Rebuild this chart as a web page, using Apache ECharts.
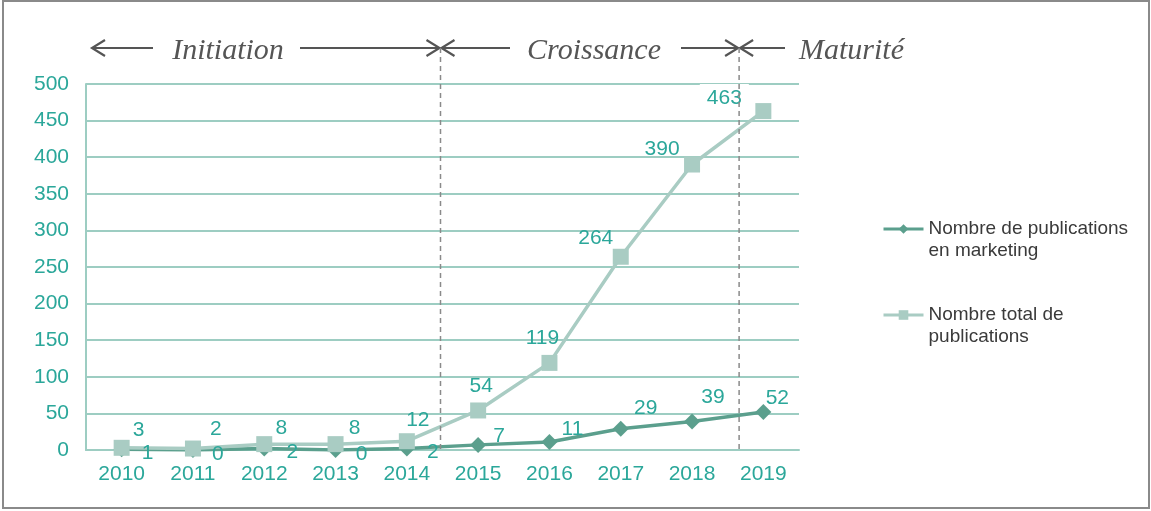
<!DOCTYPE html>
<html>
<head>
<meta charset="utf-8">
<script src="https://cdn.jsdelivr.net/npm/echarts@6/dist/echarts.min.js"></script>
<style>
  html, body { margin: 0; padding: 0; background: #fff; }
  #chart { position: absolute; left: 0; top: 0; width: 1151px; height: 511px; }
  #frame { position: absolute; left: 2px; top: 0; width: 1148px; height: 509px;
           box-sizing: border-box; border: 2px solid #8a8a8a; pointer-events: none; }
</style>
</head>
<body>
<div id="chart"></div>
<div id="frame"></div>
<script>
// data
const years = ['2010', '2011', '2012', '2013', '2014', '2015', '2016', '2017', '2018', '2019'];
const marketing = [1, 0, 2, 0, 2, 7, 11, 29, 39, 52];
const total = [3, 2, 8, 8, 12, 54, 119, 264, 390, 463];
const seriesNames = ['Nombre de publications\nen marketing', 'Nombre total de\npublications'];
const phases = ['Initiation', 'Croissance', 'Maturité'];

// label placement (style only, px from the marker centre)
const mkOffsets = [[26, 4], [25, 4], [28, 4], [26, 4], [26, 4], [21, -9], [23, -13], [25, -21], [21, -24], [14, -14]];
const totOffsets = [[17, -18], [23, -19], [17, -16], [19, -16], [11, -21], [3, -24], [-7, -25], [-25, -19], [-30, -15], [-39, -13]];

const teal = '#2ba79a';
const gridColor = '#9dcdc2';
const darkLine = '#5b9f8d';
const lightLine = '#a9ccc3';
const sans = 'Liberation Sans, Arial, sans-serif';

const chart = echarts.init(document.getElementById('chart'));

const option = {
  animation: false,
  grid: { left: 86, right: 352, top: 84, bottom: 61 },
  legend: {
    orient: 'vertical',
    left: 882,
    top: 196,
    padding: 0,
    itemGap: 20,
    itemWidth: 40,
    itemHeight: 12,
    data: seriesNames,
    formatter: (name) => ' \n' + name,
    lineStyle: { width: 3 },
    textStyle: {
      fontFamily: sans,
      fontSize: 19,
      color: '#3a3a3a',
      lineHeight: 22
    }
  },
  xAxis: {
    type: 'category',
    data: years,
    axisTick: { show: false },
    axisLine: { lineStyle: { color: gridColor, width: 2 } },
    axisLabel: { color: teal, fontSize: 21, margin: 14, fontFamily: sans }
  },
  yAxis: {
    type: 'value',
    min: 0,
    max: 500,
    interval: 50,
    axisLine: { show: true, lineStyle: { color: gridColor, width: 2 } },
    axisTick: { show: false },
    splitLine: { lineStyle: { color: gridColor, width: 2 } },
    axisLabel: { color: teal, fontSize: 21, margin: 17, fontFamily: sans }
  },
  series: [
    {
      name: seriesNames[0],
      type: 'line',
      symbol: 'diamond',
      symbolSize: 16,
      lineStyle: { color: darkLine, width: 3.5 },
      itemStyle: { color: darkLine },
      label: { show: true, position: 'inside', color: teal, fontSize: 21, fontFamily: sans },
      data: marketing.map((v, i) => ({ value: v, label: { offset: mkOffsets[i] } }))
    },
    {
      name: seriesNames[1],
      type: 'line',
      symbol: 'rect',
      symbolSize: 16,
      lineStyle: { color: lightLine, width: 3.5 },
      itemStyle: { color: lightLine },
      label: { show: true, position: 'inside', color: teal, fontSize: 21, fontFamily: sans },
      data: total.map((v, i) => ({
        value: v,
        label: i === total.length - 1
          ? { offset: totOffsets[i], backgroundColor: '#fff', padding: [5, 7, 2, 7] }
          : { offset: totOffsets[i] }
      }))
    }
  ]
};

chart.setOption(option);

// phase annotations: dashed boundaries + arrows
const px = (cat) => chart.convertToPixel({ xAxisIndex: 0 }, cat);
const step = px(years[1]) - px(years[0]);
const b1 = (px('2014') + px('2015')) / 2 - 2;
const b2 = px('2018') + step * 0.66;
const yArrow = 48;
const yBase = chart.convertToPixel({ yAxisIndex: 0 }, 0);
const arrowStyle = { stroke: '#555', lineWidth: 2.2, fill: null };

function seg(x1, x2, headLeft, headRight) {
  const out = [{ type: 'line', shape: { x1: x1, y1: yArrow, x2: x2, y2: yArrow }, style: arrowStyle }];
  if (headLeft) out.push({ type: 'polyline', shape: { points: [[x1 + 13, yArrow - 8], [x1, yArrow], [x1 + 13, yArrow + 8]] }, style: arrowStyle });
  if (headRight) out.push({ type: 'polyline', shape: { points: [[x2 - 13, yArrow - 8], [x2, yArrow], [x2 - 13, yArrow + 8]] }, style: arrowStyle });
  return out;
}
function label(text, x, align) {
  return {
    type: 'text', x: x, y: yArrow + 3,
    style: {
      text: text, fill: '#555', font: 'italic 30px "Liberation Serif", "Times New Roman", serif',
      align: align || 'center', verticalAlign: 'middle'
    }
  };
}
function dashed(x) {
  return {
    type: 'line', shape: { x1: x, y1: yArrow, x2: x, y2: yBase },
    style: { stroke: '#8a8a8a', lineWidth: 1.5, lineDash: [5, 4] }, z: 10
  };
}

const elements = []
  .concat(seg(92, 153, true, false))
  .concat(seg(300, b1 - 1, false, true))
  .concat(seg(b1 + 1, 510, true, false))
  .concat(seg(681, b2 - 1, false, true))
  .concat(seg(b2 + 1, 785, true, false))
  .concat([label(phases[0], 228), label(phases[1], 594), label(phases[2], 799, 'left')])
  .concat([dashed(b1), dashed(b2)]);

chart.setOption({ graphic: { elements: elements } });
</script>
</body>
</html>
